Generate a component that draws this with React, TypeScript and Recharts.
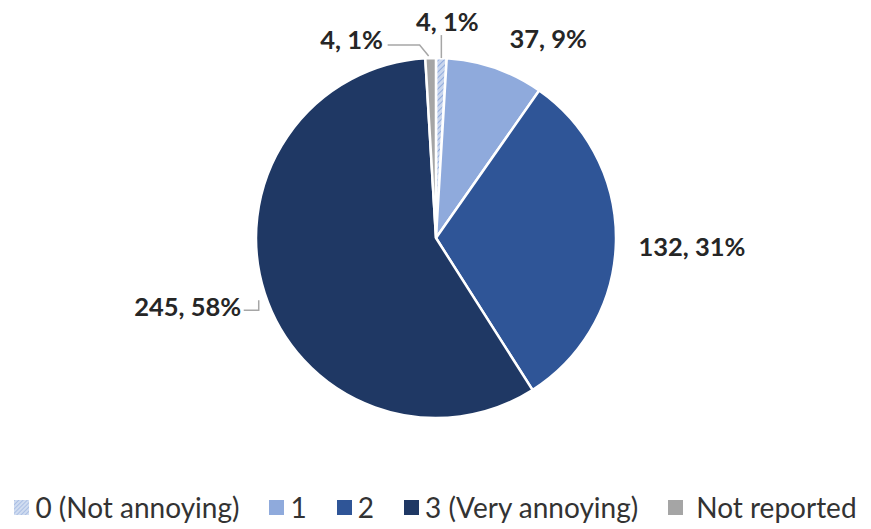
import React from 'react';
import { PieChart, Pie, Cell, Legend } from 'recharts';

document.body.style.margin = '0';

const categories = ['0 (Not annoying)', '1', '2', '3 (Very annoying)', 'Not reported'];
const counts = [4, 37, 132, 245, 4];
const percentLabels = ['1%', '9%', '31%', '58%', '1%'];

const COLORS = ['url(#hatch0)', '#8FAADC', '#2F5597', '#1F3864', '#A5A5A5'];
const LEGEND_COLORS = ['url(#hatchLegend)', '#8FAADC', '#2F5597', '#1F3864', '#A5A5A5'];

// label placement relative to the slice's outer edge point
const labelOffsets: [number, number][] = [
  [6, -37],
  [53, -30],
  [76, 4],
  [-77, 13],
  [-79, -19],
];

// leader lines, relative to the slice's outer edge point
const leaders: ([number, number][] | null)[] = [
  [[0, -23], [0, 0]],
  null,
  null,
  [[-21, 17], [-6, 17], [-6, 7]],
  [[-43, -13], [-11, -13], [-2, -2]],
];

const data = categories.map((name, i) => ({ name, value: counts[i], pct: percentLabels[i] }));

const RAD = Math.PI / 180;

// eslint-disable-next-line @typescript-eslint/no-explicit-any
const renderLabel = (props: any) => {
  const { cx, cy, midAngle, outerRadius, index, value } = props;
  const ox = cx + outerRadius * Math.cos(-midAngle * RAD);
  const oy = cy + outerRadius * Math.sin(-midAngle * RAD);
  const [dx, dy] = labelOffsets[index];
  const line = leaders[index];
  return (
    <g key={`lbl-${index}`}>
      {line && (
        <polyline
          points={line.map(([lx, ly]) => `${ox + lx},${oy + ly}`).join(' ')}
          fill="none"
          stroke="#A6A6A6"
          strokeWidth={1.5}
        />
      )}
      <text
        x={ox + dx}
        y={oy + dy}
        textAnchor="middle"
        dominantBaseline="central"
        fill="#262626"
        fontSize={25.5}
        fontWeight={700}
        fontFamily="Lato, sans-serif"
      >
        {`${value}, ${data[index].pct}`}
      </text>
    </g>
  );
};

const renderLegend = () => (
  <div
    style={{
      display: 'flex',
      justifyContent: 'center',
      alignItems: 'center',
      fontFamily: 'Lato, sans-serif',
      fontSize: 28,
      color: '#333333',
      gap: 30,
    }}
  >
    {categories.map((c, i) => (
      <div key={c} style={{ display: 'flex', alignItems: 'center', gap: i === 4 ? 13 : 6 }}>
        <svg width={15} height={15}>
          <rect width={15} height={15} fill={LEGEND_COLORS[i]} />
        </svg>
        <span>{c}</span>
      </div>
    ))}
  </div>
);

export default function App() {
  return (
    <div style={{ width: 871, height: 529, background: '#fff' }}>
      <PieChart width={871} height={529} margin={{ top: 0, right: 0, bottom: 0, left: 0 }}>
        <defs>
          <pattern id="hatch0" width="4" height="4" patternUnits="userSpaceOnUse" patternTransform="rotate(45)">
            <rect width="4" height="4" fill="#C9D6EE" />
            <line x1="0" y1="0" x2="0" y2="4" stroke="#8FAADC" strokeWidth="2" />
          </pattern>
          <pattern id="hatchLegend" width="3" height="3" patternUnits="userSpaceOnUse" patternTransform="rotate(45)">
            <rect width="3" height="3" fill="#D0DCF0" />
            <line x1="0" y1="0" x2="0" y2="3" stroke="#9FB6E0" strokeWidth="1.5" />
          </pattern>
        </defs>
        <Pie
          data={data}
          dataKey="value"
          nameKey="name"
          cx={436}
          cy={238}
          outerRadius={180}
          startAngle={90}
          endAngle={-270}
          stroke="#fff"
          strokeWidth={2.5}
          label={renderLabel}
          labelLine={false}
          isAnimationActive={false}
        >
          {data.map((d, i) => (
            <Cell key={d.name} fill={COLORS[i]} />
          ))}
        </Pie>
        <Legend
          verticalAlign="bottom"
          align="center"
          content={renderLegend}
          wrapperStyle={{ bottom: 5, left: 0, width: 871 }}
        />
      </PieChart>
    </div>
  );
}
